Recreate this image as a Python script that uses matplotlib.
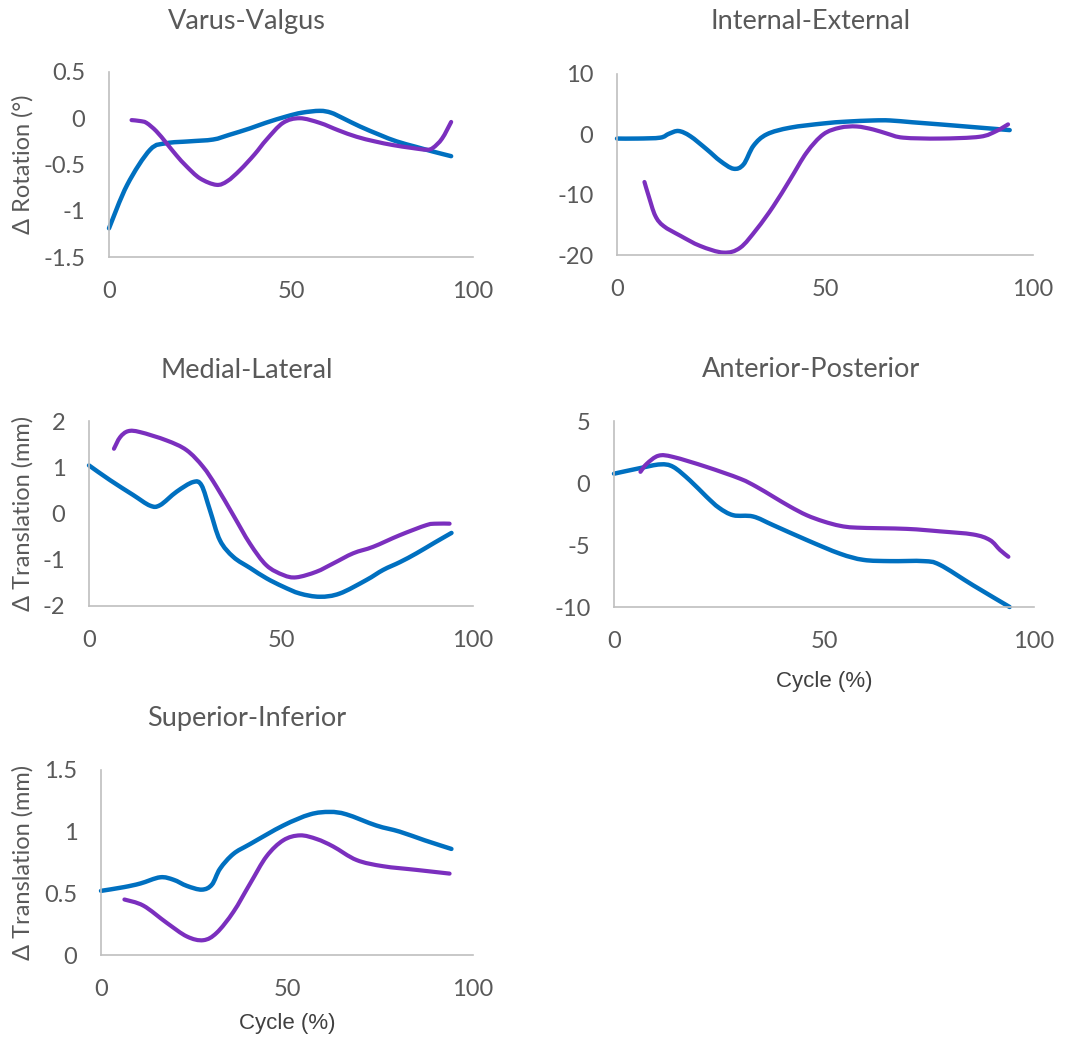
import matplotlib
matplotlib.use('Agg')
import matplotlib.pyplot as plt
from matplotlib.path import Path
from matplotlib.patches import PathPatch

plt.rcParams['font.family'] = ['Lato', 'DejaVu Sans']

BLUE = '#0070C0'
PURPLE = '#7B2FBE'
GREY_TEXT = '#595959'
GREY_AXIS = '#BFBFBF'

# Varus-Valgus
vv_blue_x = [0, 5, 11.3, 15.8, 22, 28.6, 33, 38.7, 43, 48.8, 53, 57.9, 61, 64.3, 69, 74.4, 79, 84.4, 89, 94]
vv_blue_y = [-1.19, -0.72, -0.34, -0.27, -0.25, -0.23, -0.18, -0.11, -0.05, 0.02, 0.06, 0.08, 0.06, 0.0, -0.09, -0.18, -0.25, -0.31, -0.36, -0.41]
vv_purple_x = [6.2, 8.5, 10.3, 13, 15.8, 18.5, 21.3, 25, 29.5, 32.5, 36, 40, 43.3, 47.8, 52.4, 57.9, 63, 68, 73, 78, 83, 87.2, 89, 91.5, 94]
vv_purple_y = [-0.02, -0.03, -0.05, -0.14, -0.27, -0.40, -0.52, -0.65, -0.72, -0.68, -0.56, -0.39, -0.23, -0.05, 0.0, -0.05, -0.13, -0.2, -0.25, -0.29, -0.32, -0.34, -0.32, -0.22, -0.04]

# Internal-External
ie_blue_x = [0, 5, 10.4, 12.5, 14.8, 17.6, 21.6, 24.8, 28, 30.4, 32.8, 36, 41.6, 49.6, 55, 61.6, 65.6, 71, 77.6, 85.6, 94.4]
ie_blue_y = [-0.7, -0.7, -0.55, 0.1, 0.55, -0.3, -2.5, -4.4, -5.7, -5.0, -1.9, 0.0, 1.1, 1.8, 2.1, 2.3, 2.3, 2.0, 1.65, 1.2, 0.7]
ie_purple_x = [6.6, 7.6, 9.2, 11.2, 15.2, 20, 25.6, 29.6, 33.6, 37.6, 41.6, 45.6, 49.6, 53.6, 57.6, 61.6, 65, 68.8, 77.6, 87.2, 91.2, 94]
ie_purple_y = [-7.9, -10.2, -13.5, -15.2, -16.8, -18.5, -19.6, -18.8, -15.7, -11.9, -7.5, -3.0, 0.0, 1.1, 1.3, 0.8, 0.1, -0.55, -0.7, -0.4, 0.55, 1.65]

# Medial-Lateral
ml_blue_x = [0, 5.5, 11.5, 15.9, 18.5, 22.8, 27.1, 29.3, 31.5, 34.1, 37.6, 42, 46.2, 50.5, 54.9, 60.1, 65.3, 72.2, 76.6, 81, 85.3, 90, 94.4]
ml_blue_y = [1.04, 0.72, 0.4, 0.17, 0.18, 0.47, 0.68, 0.61, 0.07, -0.58, -0.94, -1.18, -1.4, -1.58, -1.73, -1.8, -1.73, -1.44, -1.22, -1.05, -0.86, -0.63, -0.42]
ml_purple_x = [6.5, 8.1, 10.2, 13.3, 20.2, 25.4, 29.7, 33.2, 37.6, 41.9, 46.2, 50.6, 54, 59.2, 63.6, 68.8, 74, 80.9, 87.9, 90.5, 93.9]
ml_purple_y = [1.4, 1.65, 1.78, 1.76, 1.58, 1.37, 1.01, 0.58, -0.04, -0.65, -1.12, -1.33, -1.38, -1.26, -1.08, -0.86, -0.72, -0.47, -0.25, -0.22, -0.22]

# Anterior-Posterior
ap_blue_x = [0, 6.2, 11, 14.1, 18.1, 22, 25, 28.4, 33.1, 37.9, 45.9, 53.8, 59.4, 65.8, 73.7, 77.6, 85.5, 94.2]
ap_blue_y = [0.75, 1.2, 1.5, 1.3, 0.2, -1.1, -2.0, -2.6, -2.7, -3.4, -4.6, -5.7, -6.2, -6.3, -6.3, -6.6, -8.25, -10.0]
ap_purple_x = [6.3, 7.8, 10.6, 14.1, 22, 30, 33.9, 37.9, 41.9, 45.9, 49.9, 53.8, 57.8, 69.7, 77.6, 85.5, 89.5, 91.9, 93.9]
ap_purple_y = [0.9, 1.55, 2.2, 2.1, 1.3, 0.35, -0.3, -1.1, -1.9, -2.6, -3.1, -3.45, -3.6, -3.7, -3.9, -4.15, -4.6, -5.4, -5.95]

# Superior-Inferior
si_blue_x = [0, 6.1, 10.6, 15.9, 19.5, 23.1, 27.1, 29.8, 32, 35.6, 40.1, 49, 56.2, 61.5, 66, 74, 80.3, 87, 94.2]
si_blue_y = [0.52, 0.55, 0.58, 0.63, 0.61, 0.56, 0.53, 0.57, 0.70, 0.82, 0.90, 1.05, 1.14, 1.16, 1.14, 1.05, 1.0, 0.93, 0.86]
si_purple_x = [6.3, 11.4, 17.7, 23.1, 27.5, 31.1, 35.6, 40.1, 44.5, 49, 53.5, 58, 62.4, 68.7, 75.8, 84.8, 93.7]
si_purple_y = [0.45, 0.4, 0.26, 0.15, 0.12, 0.18, 0.35, 0.58, 0.8, 0.93, 0.97, 0.94, 0.88, 0.77, 0.72, 0.69, 0.66]

panels = [
    # title, blue, purple, ylim, yticks, ylabel, xlabel,
    # axes rect in px (left, right, top, bottom), title (x, baseline) in px, xlabel centre y
    ('Varus-Valgus', (vv_blue_x, vv_blue_y), (vv_purple_x, vv_purple_y),
     (-1.5, 0.5), [-1.5, -1, -0.5, 0, 0.5], 'Δ Rotation (°)', None,
     (109, 473, 72, 257), (247, 29), None),
    ('Internal-External', (ie_blue_x, ie_blue_y), (ie_purple_x, ie_purple_y),
     (-20, 10), [-20, -10, 0, 10], None, None,
     (617, 1033, 74, 255), (811, 29), None),
    ('Medial-Lateral', (ml_blue_x, ml_blue_y), (ml_purple_x, ml_purple_y),
     (-2, 2), [-2, -1, 0, 1, 2], 'Δ Translation (mm)', None,
     (89, 473, 421, 606), (247, 378), None),
    ('Anterior-Posterior', (ap_blue_x, ap_blue_y), (ap_purple_x, ap_purple_y),
     (-10, 5), [-10, -5, 0, 5], None, 'Cycle (%)',
     (614, 1034, 421, 607), (811, 377), 682),
    ('Superior-Inferior', (si_blue_x, si_blue_y), (si_purple_x, si_purple_y),
     (0, 1.5), [0, 0.5, 1, 1.5], 'Δ Translation (mm)', 'Cycle (%)',
     (101, 473, 770, 955), (247, 726), 1023),
]

W, H = 1086, 1040
YLABEL_X = 23


def smooth_path(xs, ys):
    # Excel-style smoothed line: cubic Bezier through the points
    pts = list(zip(xs, ys))
    n = len(pts)
    verts = [pts[0]]
    codes = [Path.MOVETO]
    for i in range(n - 1):
        p0 = pts[max(i - 1, 0)]
        p1 = pts[i]
        p2 = pts[i + 1]
        p3 = pts[min(i + 2, n - 1)]
        c1 = (p1[0] + (p2[0] - p0[0]) / 6, p1[1] + (p2[1] - p0[1]) / 6)
        c2 = (p2[0] - (p3[0] - p1[0]) / 6, p2[1] - (p3[1] - p1[1]) / 6)
        verts += [c1, c2, p2]
        codes += [Path.CURVE4] * 3
    return Path(verts, codes)


fig = plt.figure(figsize=(W / 100, H / 100), dpi=100)

for title, blue, purple, ylim, yticks, ylabel, xlabel, (l, r, t, b), (tx, ty), xly in panels:
    ax = fig.add_axes([l / W, 1 - b / H, (r - l) / W, (b - t) / H])
    ax.add_patch(PathPatch(smooth_path(*blue), fill=False, edgecolor=BLUE, lw=3.2,
                           capstyle='round', joinstyle='round', clip_on=False))
    ax.add_patch(PathPatch(smooth_path(*purple), fill=False, edgecolor=PURPLE, lw=3.0,
                           capstyle='round', joinstyle='round', clip_on=False))
    ax.set_xlim(0, 100)
    ax.set_ylim(*ylim)
    ax.set_xticks([0, 50, 100])
    ax.set_yticks(yticks)
    ax.set_yticklabels([f'{v:g}' for v in yticks])
    for s in ['top', 'right']:
        ax.spines[s].set_visible(False)
    for s in ['left', 'bottom']:
        ax.spines[s].set_color(GREY_AXIS)
        ax.spines[s].set_linewidth(1.2)
    ax.tick_params(length=0, labelsize=17, labelcolor=GREY_TEXT)
    ax.tick_params(axis='y', pad=17)
    ax.tick_params(axis='x', pad=17)
    fig.text(tx / W, 1 - ty / H, title, fontsize=19.5, color=GREY_TEXT,
             ha='center', va='baseline')
    if ylabel:
        ax.set_ylabel(ylabel, fontsize=17, color=GREY_TEXT, va='center')
        ax.yaxis.set_label_coords((YLABEL_X - l) / (r - l), 0.5)
    if xlabel:
        ax.set_xlabel(xlabel, fontsize=16, color='#404040', va='center',
                      family=['Liberation Sans', 'DejaVu Sans'])
        ax.xaxis.set_label_coords(0.5, -(xly - b) / (b - t))

fig.savefig('out.png', dpi=100)
